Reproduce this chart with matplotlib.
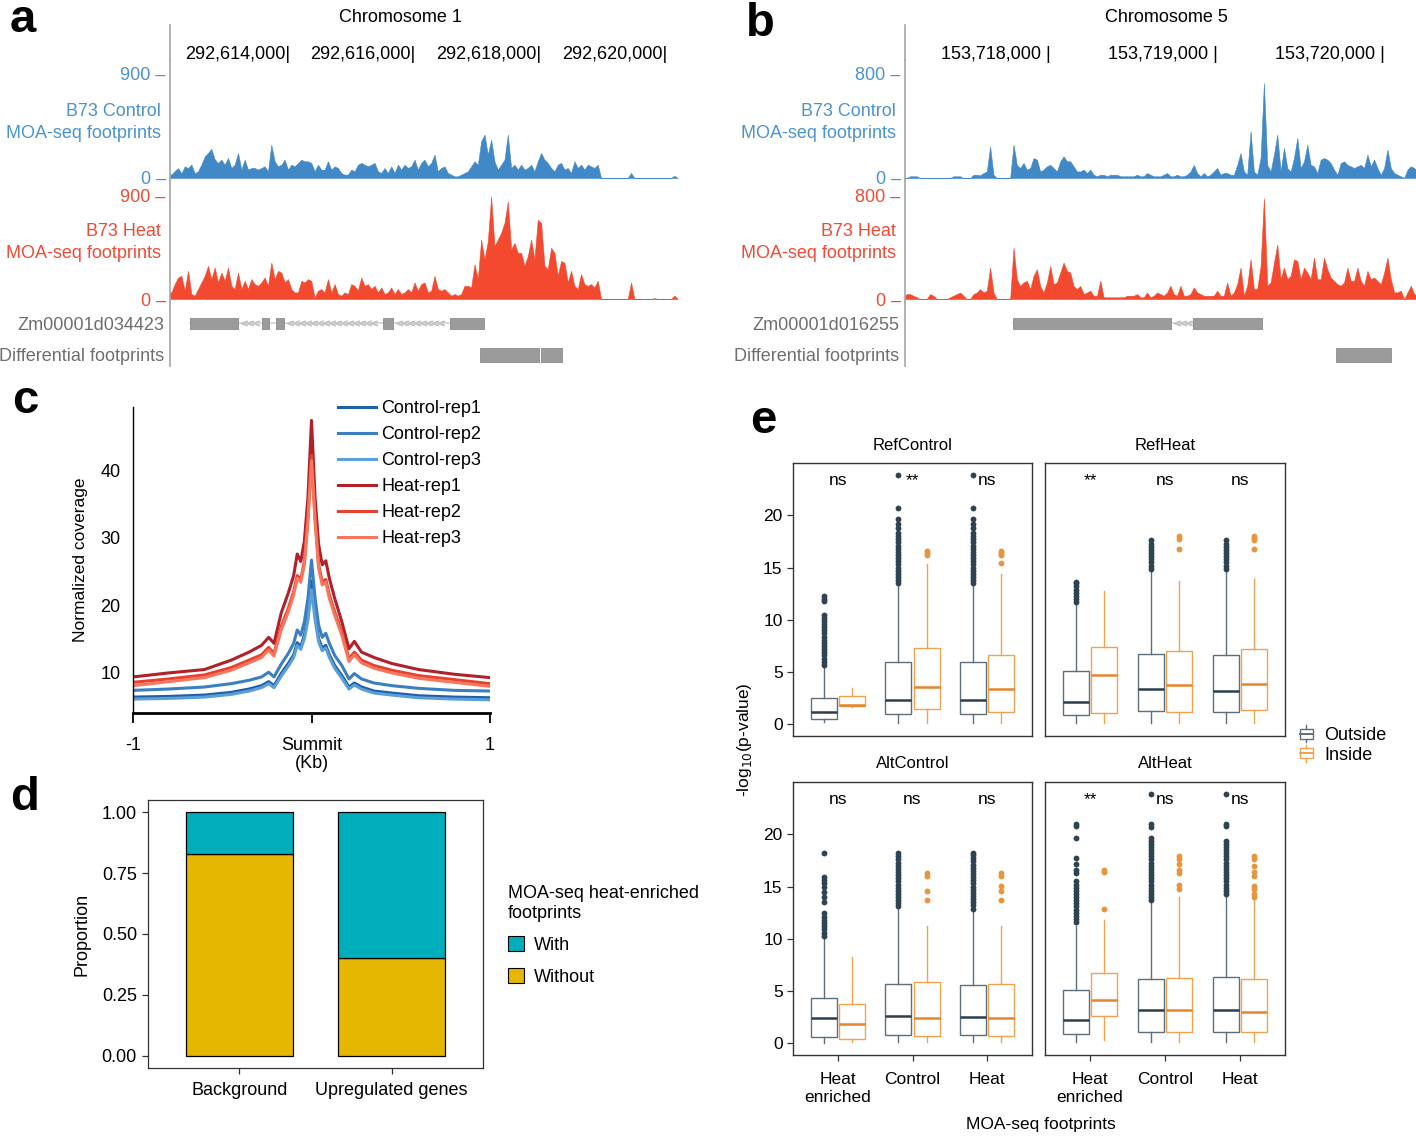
import matplotlib.pyplot as plt
import numpy as np
from matplotlib import rc
from matplotlib.lines import Line2D
from matplotlib.patches import Patch, Rectangle
from matplotlib.legend_handler import HandlerBase

rc('font', family='Liberation Sans', size=13)

# ---------------- data: panel a (Chromosome 1 browser tracks) ----------------
a_start, a_step = 292612060, 53          # bin start / width (bp)
a_ticks = [292614000, 292616000, 292618000, 292620000]
a_ctrl = [35, 30, 60, 85, 40, 100, 85, 115, 40, 57,
          115, 185, 215, 250, 160, 129, 157, 114, 172, 86,
          114, 215, 72, 157, 72, 86, 86, 72, 86, 100,
          57, 285, 143, 100, 114, 157, 72, 114, 100, 129,
          157, 143, 143, 129, 57, 114, 72, 72, 143, 72,
          100, 86, 43, 29, 29, 72, 57, 114, 129, 114,
          100, 114, 129, 57, 43, 86,
          43, 100, 43, 114, 72, 114, 86, 100, 157, 72,
          129, 157, 100, 129, 200, 57, 86, 100, 43, 29,
          14, 14, 29, 43, 57, 100, 143, 114, 315, 372,
          200, 329, 143, 72, 114, 157, 372, 86, 114, 72,
          114, 72, 86, 114, 57, 143, 215, 157, 129, 86,
          57, 114, 129, 72, 86, 43, 143, 86, 114, 72,
          114, 100, 86, 114,
          0, 0, 0, 0, 0, 0, 0, 0, 0, 43,
          0, 0, 0, 0, 0, 0, 0, 0, 0, 0, 0, 0, 20, 0]
a_heat = [57, 57, 129, 186, 200, 72, 243, 43, 29, 86,
          143, 200, 286, 172, 272, 143, 229, 157, 272, 114,
          86, 229, 86, 157, 86, 172, 129, 114, 143, 186,
          114, 315, 172, 243, 229, 143, 172, 86, 57, 57,
          157, 143, 172, 157, 14, 72, 86, 57, 172, 57,
          129, 43, 29, 57, 43, 129, 114, 72, 186, 114,
          129, 86, 114, 57, 100, 43,
          57, 100, 43, 86, 43, 57, 86, 57, 143, 72,
          129, 143, 57, 72, 200, 86, 72, 86, 57, 29,
          43, 29, 43, 114, 114, 100,
          300, 172, 515, 343, 500, 886, 458, 515, 572, 658,
          844, 430, 486, 400, 400, 286, 372, 515, 343, 686,
          658, 286, 260, 443, 400, 200, 329, 315, 143, 243,
          114, 86, 215, 129, 114, 129, 100, 157,
          0, 0, 0, 0, 0, 0, 0, 0, 0, 143,
          0, 0, 0, 0, 0, 0, 8, 0, 0, 0, 0, 0, 30, 0]
a_exons = [(292612404, 292613173), (292613548, 292613669), (292613782, 292613911),
           (292615473, 292615637), (292616539, 292617093)]
a_diff = [(292617023, 292617958), (292618001, 292618335)]

# ---------------- data: panel b (Chromosome 5 browser tracks) ----------------
b_start, b_step = 153717097, 20
b_ticks = [153718000, 153719000, 153720000]
b_ctrl = [0, 0, 0, 13, 13, 13, 0, 0, 0, 0,
          0, 0, 0, 0, 0, 0, 13, 13, 13, 0,
          0, 0, 25, 25, 20, 38, 50, 240, 25, 0,
          0, 0, 0, 0, 254, 100, 76, 114, 64, 76,
          152, 140, 50, 64, 89, 100, 76, 50, 127, 165,
          127, 127, 89, 50, 50, 64, 38, 64, 25, 13,
          25, 25, 13, 25, 25, 25, 13, 13, 13, 13,
          13, 25, 13, 13, 38, 25, 13,
          13, 13, 25, 38, 13, 13, 25, 13, 13, 25,
          50, 100, 38, 13, 38, 13, 25, 50, 76, 25,
          38, 38, 25, 25, 100, 190, 50, 25, 356, 50,
          25, 152, 724, 100, 50, 178, 330, 50, 229, 76,
          50, 152, 305, 76, 127, 254, 100, 89, 38, 140,
          152, 140, 114, 64, 25, 114, 127, 100, 89, 76,
          89, 100, 76, 178, 89, 140, 76, 25, 76, 216,
          76, 38, 25, 13, 0, 64, 89, 76, 50]
b_heat = [0, 13, 38, 38, 25, 13, 0, 0, 0, 38,
          25, 0, 0, 0, 0, 13, 25, 38, 50, 25,
          0, 0, 38, 50, 76, 50, 64, 240, 50, 0,
          0, 0, 0, 0, 394, 152, 100, 127, 140, 76,
          178, 229, 100, 50, 127, 254, 114, 127, 203, 280,
          216, 203, 100, 76, 100, 38, 50, 64, 25, 25,
          140, 13, 13, 13, 13, 13, 13, 13, 25, 25,
          25, 38, 13, 13, 50, 13, 25,
          50, 38, 25, 50, 102, 38, 25, 102, 25, 25,
          38, 89, 50, 38, 25, 25, 25, 25, 64, 25,
          25, 127, 25, 50, 114, 241, 25, 102, 305, 76,
          76, 254, 775, 102, 127, 279, 419, 152, 241, 152,
          178, 305, 292, 152, 241, 203, 152, 318, 152, 152,
          318, 229, 165, 140, 114, 102, 127, 241, 140, 140,
          241, 140, 102, 216, 152, 165, 140, 114, 203, 318,
          152, 51, 51, 64, 0, 51, 102, 38, 25]
b_exons = [(153717774, 153718718), (153718851, 153719268)]
b_diff = [(153719709, 153720038)]

# ---------------- data: panel c (profiles around summits) ----------------
c_pos = [-1.0, -0.8, -0.6, -0.45, -0.35, -0.28, -0.24, -0.21, -0.17, -0.13, -0.1,
         -0.08, -0.06, -0.04, -0.02, 0.0, 0.02, 0.04, 0.06, 0.08, 0.1, 0.13,
         0.17, 0.21, 0.24, 0.28, 0.35, 0.45, 0.6, 0.8, 1.0]
control_rep1 = [6.3, 6.4, 6.6, 7.0, 7.5, 8.0, 8.6, 8.0, 9.8, 11.3, 12.6, 14.4, 13.8, 15.5, 18.5,
                23.6, 18.5, 15.0, 13.6, 14.0, 12.6, 11.0, 9.5, 7.8, 8.4, 7.8, 7.2, 6.9, 6.5, 6.3, 6.2]
control_rep2 = [7.3, 7.5, 7.8, 8.3, 8.8, 9.3, 10.0, 9.3, 11.2, 12.8, 14.3, 16.3, 15.5, 17.5, 21.0,
                26.7, 21.0, 17.0, 15.2, 15.8, 14.3, 12.5, 11.0, 9.0, 9.8, 9.0, 8.4, 8.0, 7.6, 7.3, 7.2]
control_rep3 = [6.0, 6.1, 6.3, 6.7, 7.2, 7.7, 8.3, 7.7, 9.4, 10.9, 12.2, 14.0, 13.4, 15.0, 17.8,
                22.3, 17.8, 14.5, 13.2, 13.6, 12.2, 10.6, 9.1, 7.5, 8.1, 7.5, 6.9, 6.6, 6.2, 6.0, 5.9]
heat_rep1 = [9.3, 9.9, 10.4, 11.8, 13.0, 14.0, 15.2, 14.3, 18.8, 21.8, 24.4, 27.6, 26.5, 29.5, 36.0,
             47.5, 36.0, 29.0, 26.0, 26.6, 24.0, 21.0, 17.5, 13.5, 14.6, 13.0, 12.2, 11.3, 10.4, 9.7, 9.2]
heat_rep2 = [8.5, 9.0, 9.6, 10.7, 11.8, 12.6, 13.7, 12.8, 16.8, 19.5, 22.0, 24.4, 23.8, 26.5, 33.0,
             42.3, 33.0, 26.0, 23.5, 23.8, 21.5, 19.0, 16.0, 12.0, 13.0, 11.8, 11.0, 10.3, 9.5, 8.9, 8.3]
heat_rep3 = [8.0, 8.6, 9.2, 10.3, 11.4, 12.2, 13.3, 12.4, 16.3, 19.0, 21.5, 24.0, 23.4, 26.0, 32.5,
             41.5, 32.5, 25.5, 23.0, 23.4, 21.0, 18.5, 15.5, 11.6, 12.6, 11.4, 10.6, 9.9, 9.1, 8.5, 7.9]
c_names = ['Control-rep1', 'Control-rep2', 'Control-rep3', 'Heat-rep1', 'Heat-rep2', 'Heat-rep3']

# ---------------- data: panel d ----------------
d_groups = ['Background', 'Upregulated genes']
d_without = [0.827, 0.403]
d_with = [0.173, 0.597]

# ---------------- data: panel e (box plot statistics) ----------------
e_facets = ['RefControl', 'RefHeat', 'AltControl', 'AltHeat']
e_cats = ['Heat\nenriched', 'Control', 'Heat']
# per facet, order: HE-out, HE-in, Control-out, Control-in, Heat-out, Heat-in
e_med = [[1.18, 1.85, 2.36, 3.63, 2.33, 3.38],
         [2.17, 4.71, 3.41, 3.76, 3.25, 3.85],
         [2.39, 1.85, 2.64, 2.39, 2.55, 2.39],
         [2.29, 4.20, 3.18, 3.25, 3.18, 3.03]]
e_q1 = [[0.50, 1.78, 0.96, 1.47, 0.96, 1.21],
        [0.89, 1.08, 1.31, 1.21, 1.21, 1.34],
        [0.64, 0.45, 0.80, 0.70, 0.80, 0.70],
        [0.86, 2.67, 1.08, 1.11, 1.08, 1.11]]
e_q3 = [[2.58, 2.74, 5.96, 7.32, 5.96, 6.69],
        [5.16, 7.45, 6.75, 7.04, 6.69, 7.26],
        [4.36, 3.76, 5.67, 5.86, 5.64, 5.73],
        [5.10, 6.72, 6.18, 6.27, 6.34, 6.21]]
e_lo = [[0.2, 1.7, 0.1, 0.1, 0.1, 0.1],
        [0.1, 0.1, 0.1, 0.1, 0.1, 0.1],
        [0.05, 0.1, 0.1, 0.1, 0.1, 0.1],
        [0.1, 0.3, 0.1, 0.1, 0.1, 0.1]]
e_hi = [[5.45, 3.53, 13.3, 15.3, 13.3, 14.4],
        [11.5, 12.8, 14.7, 13.7, 14.7, 13.95],
        [10.2, 8.3, 13.0, 11.2, 12.7, 11.2],
        [11.2, 11.8, 13.6, 14.0, 14.1, 13.8]]
e_fliers = [
    [[5.7, 6.0, 6.3, 6.6, 6.9, 7.2, 7.5, 7.8, 8.1, 8.4, 8.7, 9.0, 9.3, 9.6, 9.9, 10.2, 10.5, 11.8, 12.0, 12.3],
     [],
     [13.5, 13.8, 14.1, 14.4, 14.7, 15.0, 15.3, 15.6, 15.9, 16.2, 16.5, 16.8, 17.1, 17.4, 17.7, 18.0, 18.3,
      18.8, 19.2, 19.6, 20.7, 23.9],
     [16.2, 16.4, 16.6],
     [13.5, 13.8, 14.1, 14.4, 14.7, 15.0, 15.3, 15.6, 15.9, 16.2, 16.5, 16.8, 17.1, 17.4, 17.7, 18.0, 18.3,
      18.8, 19.2, 19.6, 20.7, 23.9],
     [15.4, 16.2, 16.4, 16.6]],
    [[11.7, 12.0, 12.3, 12.6, 12.9, 13.2, 13.5, 13.6],
     [],
     [14.9, 15.2, 15.5, 15.8, 16.1, 16.4, 16.7, 17.0, 17.3, 17.6],
     [16.8, 17.7, 18.0],
     [14.9, 15.2, 15.5, 15.8, 16.1, 16.4, 16.7, 17.0, 17.3, 17.6],
     [16.8, 17.6, 17.8, 18.0]],
    [[10.3, 10.6, 10.9, 11.2, 11.5, 11.8, 12.1, 12.5, 13.5, 14.0, 14.5, 15.0, 15.3, 15.6, 15.9, 18.2],
     [],
     [13.1, 13.4, 13.7, 14.0, 14.3, 14.6, 14.9, 15.2, 15.5, 15.8, 16.1, 16.4, 16.7, 17.0, 17.3, 17.6,
      17.9, 18.2],
     [13.7, 14.6, 16.0, 16.3],
     [12.9, 13.2, 13.5, 13.8, 14.1, 14.4, 14.7, 15.0, 15.3, 15.6, 15.9, 16.2, 16.5, 16.8, 17.1, 17.4,
      17.7, 18.0, 18.2],
     [13.7, 14.6, 15.1, 16.0, 16.3]],
    [[11.6, 11.9, 12.2, 12.5, 12.8, 13.1, 13.4, 13.7, 14.0, 14.3, 14.6, 14.9, 15.2, 15.5, 16.3, 16.6,
      17.2, 17.7, 19.6, 20.8, 21.0],
     [12.9, 16.4, 16.6],
     [13.7, 14.0, 14.3, 14.6, 14.9, 15.2, 15.5, 15.8, 16.1, 16.4, 16.7, 17.0, 17.3, 17.6, 17.9, 18.2,
      18.5, 18.8, 19.1, 19.4, 19.6, 20.7, 21.0, 23.9],
     [14.8, 15.2, 16.3, 16.6, 17.2, 17.6, 17.9],
     [14.3, 14.6, 14.9, 15.2, 15.5, 15.8, 16.1, 16.4, 16.7, 17.0, 17.3, 17.6, 17.9, 18.2, 18.5, 18.8,
      19.1, 19.4, 20.8, 21.0, 23.9],
     [14.0, 14.3, 14.8, 15.1, 16.0, 16.4, 17.0, 17.6, 17.9]]]
e_signif = [['ns', '**', 'ns'], ['**', 'ns', 'ns'], ['ns', 'ns', 'ns'], ['**', 'ns', 'ns']]

# ---------------- figure ----------------
W, H = 1416, 1136
fig = plt.figure(figsize=(W / 100, H / 100), dpi=100)


def px_axes(x0, y0, x1, y1):
    return fig.add_axes([x0 / W, 1 - y1 / H, (x1 - x0) / W, (y1 - y0) / H])


def fx(x):
    return x / W


def fy(y):
    return 1 - y / H


blue_fill, red_fill = '#4188c6', '#f2492f'
blue_txt, red_txt = '#4a93d2', '#f24a35'
spine_grey = '#a6a6a6'


def track_axes(x0, y0, x1, y1, xlim):
    ax = px_axes(x0, y0, x1, y1)
    ax.set_xlim(*xlim)
    for s in ['top', 'right', 'bottom']:
        ax.spines[s].set_visible(False)
    ax.spines['left'].set_color(spine_grey)
    ax.spines['left'].set_linewidth(1.2)
    ax.set_xticks([])
    ax.patch.set_alpha(0)
    return ax


def genome_panel(x0, x1, xlim, chrom, chrom_x, ticks, sep, start, step, ctrl, heat,
                 ymax, gene, exons, diffs):
    head = track_axes(x0, 25, x1, 60, xlim)
    head.set_yticks([])
    head.set_ylim(0, 1)
    for t in ticks:
        head.text(t, 0.17, f'{t:,}{sep}|', ha='right', va='center', fontsize=13)
    fig.text(fx(chrom_x), fy(17), chrom, ha='center', va='center', fontsize=13)

    pos = start + step * np.arange(len(ctrl))
    rows = [(60, 180, 178, 73, ctrl, blue_fill, blue_txt, 'B73 Control\nMOA-seq footprints', 122.5),
            (180, 302, 299, 195, heat, red_fill, red_txt, 'B73 Heat\nMOA-seq footprints', 242.5)]
    for y0, y1, zero_px, top_px, vals, col, tcol, lab, lab_y in rows:
        ax = track_axes(x0, y0, x1, y1, xlim)
        ax.fill_between(pos, 0, vals, color=col, lw=0.4, edgecolor=col)
        ppu = (zero_px - top_px) / ymax
        ax.set_ylim(-(y1 - zero_px) / ppu, ymax + (top_px - y0) / ppu)
        ax.set_yticks([0, ymax], labels=['0 –', f'{ymax} –'])
        ax.tick_params(axis='y', length=0, pad=3, labelcolor=tcol, labelsize=13)
        ax.annotate(lab, xy=(0, (y1 - lab_y) / (y1 - y0)), xycoords='axes fraction',
                    xytext=(-9, 0), textcoords='offset pixels', ha='right', va='center',
                    color=tcol, fontsize=13, linespacing=1.45)

    g = track_axes(x0, 302, x1, 366, xlim)
    g.set_ylim(1.35, -0.68)
    g.set_yticks([0, 1], labels=[gene, 'Differential footprints'])
    g.tick_params(axis='y', length=0, pad=4, labelcolor='#6e6e6e', labelsize=13)
    g.plot([exons[0][0], exons[-1][1]], [0, 0], color='#d4d4d4', lw=1.2, zorder=1)
    chev = step * 1.8
    for (s0, e0), (s1, e1) in zip(exons[:-1], exons[1:]):
        xs = np.arange(e0 + chev, s1 - chev / 2, chev)
        g.plot(xs, np.zeros_like(xs), ls='none', marker=r'$<$', ms=4, color='#c6c6c6', zorder=1)
    g.broken_barh([(s, e - s) for s, e in exons], (-0.17, 0.34), facecolors='#9b9b9b',
                  edgecolor='#8c8c8c', lw=0.6, zorder=2)
    g.broken_barh([(s, e - s) for s, e in diffs], (1 - 0.22, 0.44), facecolors='#9b9b9b',
                  edgecolor='#8c8c8c', lw=0.6, zorder=2)


genome_panel(170, 690, (292612091, 292620365), 'Chromosome 1', 400, a_ticks, '', a_start, a_step,
             a_ctrl, a_heat, 900, 'Zm00001d034423', a_exons, a_diff)
genome_panel(905, 1416, (153717127, 153720188), 'Chromosome 5', 1166, b_ticks, ' ', b_start, b_step,
             b_ctrl, b_heat, 800, 'Zm00001d016255', b_exons, b_diff)

# ---------------- panel c ----------------
ax = px_axes(133, 407, 490, 713)
c_series = [control_rep1, control_rep2, control_rep3, heat_rep1, heat_rep2, heat_rep3]
c_colors = ['#1f5fa8', '#3a7fc2', '#5b9fd8', '#b2202a', '#e8412f', '#f7765c']
for name, vals, col in zip(c_names, c_series, c_colors):
    ax.plot(c_pos, vals, color=col, lw=2.2, label=name, solid_joinstyle='round')
ax.set_xlim(-1, 1)
ax.set_ylim(3.93, 49.5)
ax.spines[['top', 'right']].set_visible(False)
ax.spines['left'].set_linewidth(1.0)
ax.spines['bottom'].set_linewidth(2.0)
ax.set_yticks([10, 20, 30, 40])
ax.tick_params(axis='y', length=0, pad=9, labelsize=13)
ax.set_xticks([-1, 0, 1], labels=['-1', 'Summit', '1'])
ax.tick_params(axis='x', length=7, width=1.3, pad=10, labelsize=13)
ax.set_xlabel('(Kb)', fontsize=13, labelpad=1)
ax.set_ylabel('Normalized coverage', fontsize=12.5, labelpad=9)
ax.legend(loc='upper left', bbox_to_anchor=(fx(338), fy(400)), bbox_transform=fig.transFigure,
          frameon=False, handlelength=2.1, handletextpad=0.3, labelspacing=0.5,
          borderaxespad=0, borderpad=0, fontsize=13)

# ---------------- panel d ----------------
ax = px_axes(148, 800, 483, 1068)
xd = np.arange(1, len(d_groups) + 1)
ax.bar(xd, d_without, width=0.7, color='#e5b700', edgecolor='black', lw=0.9, label='Without')
ax.bar(xd, d_with, width=0.7, bottom=d_without, color='#00aebb', edgecolor='black', lw=0.9,
       label='With')
ax.set_xlim(0.4, 2.6)
ax.set_ylim(-0.05, 1.05)
ax.set_yticks([0, 0.25, 0.5, 0.75, 1.0], labels=['0.00', '0.25', '0.50', '0.75', '1.00'])
ax.set_xticks(xd, labels=d_groups)
ax.tick_params(length=4, width=0.9, color='#333333', labelsize=13, pad=4)
ax.tick_params(axis='x', pad=6)
for s in ax.spines.values():
    s.set_linewidth(0.9)
    s.set_color('#333333')
ax.set_ylabel('Proportion', fontsize=13, labelpad=8)
hd = [Patch(facecolor='#00aebb', edgecolor='black', lw=0.8),
      Patch(facecolor='#e5b700', edgecolor='black', lw=0.8)]
fig.legend(hd, ['With', 'Without'], loc='upper left', bbox_to_anchor=(fx(508), fy(885)),
           frameon=False, title='MOA-seq heat-enriched\nfootprints', title_fontsize=13,
           fontsize=13, alignment='left', handlelength=0.9, handleheight=0.9,
           handletextpad=0.55, labelspacing=0.8, borderpad=0, borderaxespad=0)

# ---------------- panel e ----------------
out_edge, out_med, out_pt = '#5e6f7b', '#2c3e4e', '#2e4453'
in_edge, in_med, in_pt = '#f0a24f', '#e8852a', '#e8943c'
e_boxes = [(793, 463, 1032, 736), (1045, 463, 1285, 736),
           (793, 782, 1032, 1055), (1045, 782, 1285, 1055)]
for fi, (name, box) in enumerate(zip(e_facets, e_boxes)):
    ax = px_axes(*box)
    for gi, (off, ec, mc, pc) in enumerate([(-0.19, out_edge, out_med, out_pt),
                                           (0.19, in_edge, in_med, in_pt)]):
        stats, positions = [], []
        for ci in range(len(e_cats)):
            k = 2 * ci + gi
            stats.append(dict(med=e_med[fi][k], q1=e_q1[fi][k], q3=e_q3[fi][k],
                              whislo=e_lo[fi][k], whishi=e_hi[fi][k],
                              fliers=e_fliers[fi][k]))
            positions.append(ci + 1 + off)
        ax.bxp(stats, positions=positions, widths=0.35, showcaps=False, patch_artist=True,
               boxprops=dict(facecolor='white', edgecolor=ec, lw=1.0),
               whiskerprops=dict(color=ec, lw=1.0),
               medianprops=dict(color=mc, lw=1.8),
               flierprops=dict(marker='o', markerfacecolor=pc, markeredgewidth=0,
                               markersize=4.2))
    for ci, lab in enumerate(e_signif[fi]):
        ax.text(ci + 1, 23.3, lab, ha='center', va='center', fontsize=12.5)
    ax.set_xlim(0.4, 3.6)
    ax.set_ylim(-1.1, 25.0)
    for s in ax.spines.values():
        s.set_linewidth(1.0)
        s.set_color('#333333')
    ax.text(0.5, 1 + 18 / 273, name, transform=ax.transAxes, ha='center', va='center',
            fontsize=12)
    ax.set_yticks([0, 5, 10, 15, 20])
    ax.set_xticks([1, 2, 3], labels=e_cats)
    ax.tick_params(length=4, width=0.9, color='#333333', labelsize=12.5)
    ax.tick_params(axis='x', pad=8)
    for t in ax.get_xticklabels():
        t.set_linespacing(1.3)
    if fi % 2 == 1:
        ax.tick_params(axis='y', left=False, labelleft=False)
    if fi < 2:
        ax.tick_params(axis='x', bottom=False, labelbottom=False)

fig.text(fx(745), fy(740), '-log$_{10}$(p-value)', rotation=90, ha='center', va='center',
         fontsize=12.5)
fig.text(fx(1041), fy(1124), 'MOA-seq footprints', ha='center', va='center', fontsize=12.5)


class BoxKey(HandlerBase):
    def create_artists(self, legend, orig, xd, yd, w, h, fs, trans):
        c = orig.get_color()
        x0 = -xd + w * 0.1
        bw = w * 0.8
        y0 = -yd
        arts = [Rectangle((x0, y0 + h * 0.1), bw, h * 0.8, fill=False, ec=c, lw=1.0),
                Line2D([x0, x0 + bw], [y0 + h * 0.5] * 2, color=c, lw=1.4),
                Line2D([x0 + bw / 2] * 2, [y0 + h * 0.9, y0 + h * 1.15], color=c, lw=1.0),
                Line2D([x0 + bw / 2] * 2, [y0 - h * 0.15, y0 + h * 0.1], color=c, lw=1.0)]
        for a in arts:
            a.set_transform(trans)
        return arts


eh = [Line2D([], [], color=out_edge), Line2D([], [], color=in_edge)]
fig.legend(eh, ['Outside', 'Inside'], handler_map={Line2D: BoxKey()}, loc='upper left',
           bbox_to_anchor=(fx(1298), fy(727)), frameon=False, fontsize=13, handlelength=0.9,
           handletextpad=0.55, labelspacing=0.15, borderpad=0, borderaxespad=0)

# ---------------- panel letters ----------------
for letter, (x, y) in zip('abcde', [(23, 32), (760, 36), (25, 413), (25, 810), (763, 433)]):
    fig.text(fx(x), fy(y), letter, fontsize=34, fontweight='bold', ha='center', va='baseline')

fig.savefig('out.png', dpi=100)
